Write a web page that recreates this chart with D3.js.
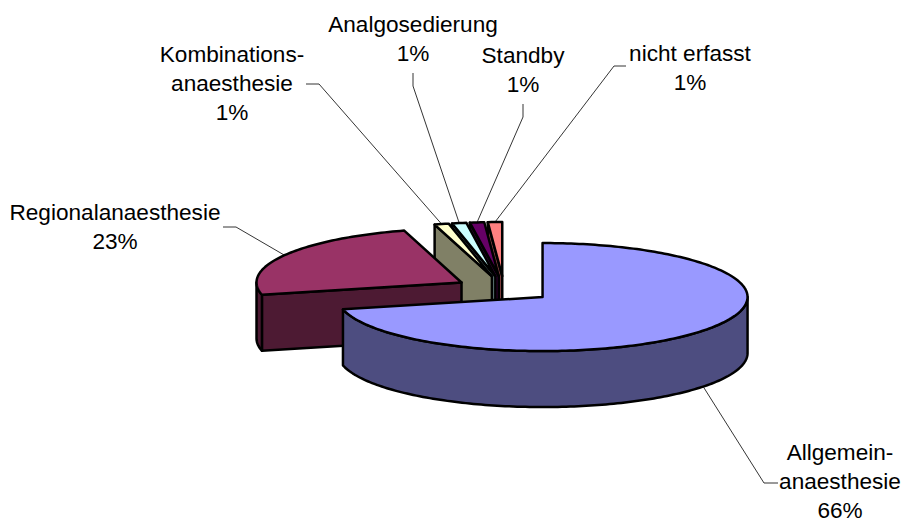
<!DOCTYPE html>
<html>
<head>
<meta charset="utf-8">
<script src="https://cdn.jsdelivr.net/npm/d3@7"></script>
<style>
  html, body { margin: 0; padding: 0; background: #fff; }
  text { font-family: "Liberation Sans", Arial, sans-serif; font-size: 22.6px; fill: #000; }
</style>
</head>
<body>
<div id="wrapper"></div>
<script>
const categories = ['Allgemeinanaesthesie', 'Regionalanaesthesie', 'Kombinationsanaesthesie', 'Analgosedierung', 'Standby', 'nicht erfasst'];
const values = [66.45, 22.5, 1.05, 1.05, 1.05, 1.05];
const topColors = ['#9999ff', '#993366', '#ffffcc', '#ccffff', '#660066', '#ff8080'];
const wallColors = ['#4d4d80', '#4d1a33', '#808066', '#668080', '#330033', '#804040'];
const labelLines = [
    ['Allgemein-', 'anaesthesie', '66%'],
    ['Regionalanaesthesie', '23%'],
    ['Kombinations-', 'anaesthesie', '1%'],
    ['Analgosedierung', '1%'],
    ['Standby', '1%'],
    ['nicht erfasst', '1%']
];

// label centre x, first baseline y, leader bend points
const labelLayout = [
    { x: 840, y: 460, leader: [[778, 483], [764, 483]] },
    { x: 115, y: 220, leader: [[223, 227], [236, 227]] },
    { x: 232, y: 62, leader: [[306, 84], [319, 84]] },
    { x: 413, y: 32, leader: [[413, 73], [413, 86]] },
    { x: 523, y: 63, leader: [[523, 104], [523, 117]] },
    { x: 690, y: 61, leader: [[626, 66], [614, 66]] }
];

const width = 903;
const height = 519;
const pie3d = { cx: 504, cy: 289, rx: 205, ry: 54, depth: 56, explode: 0.24 };

const svg = d3.select('#wrapper')
    .append('svg')
    .attr('width', width)
    .attr('height', height)
    .style('display', 'block');

const slices = d3.pie().sort(null).value(d => d)(values)
    .map((d, i) => {
        const mid = (d.startAngle + d.endAngle) / 2;
        return {
            ...d,
            i,
            mid,
            ox: pie3d.cx + pie3d.explode * pie3d.rx * Math.sin(mid),
            oy: pie3d.cy - pie3d.explode * pie3d.ry * Math.cos(mid)
        };
    });

const rim = (s, a, dz = 0) => [
    s.ox + pie3d.rx * Math.sin(a),
    s.oy - pie3d.ry * Math.cos(a) + dz
];

function arcPoints(s, a0, a1, dz) {
    const n = Math.max(2, Math.ceil(Math.abs(a1 - a0) / 0.02));
    return d3.range(n + 1).map(k => rim(s, a0 + (a1 - a0) * k / n, dz));
}

const line = d3.line();

function topPath(s) {
    return line([[s.ox, s.oy], ...arcPoints(s, s.startAngle, s.endAngle, 0)]) + 'Z';
}

function radialWall(s, a) {
    const p = rim(s, a);
    return line([[s.ox, s.oy], p, [p[0], p[1] + pie3d.depth], [s.ox, s.oy + pie3d.depth]]) + 'Z';
}

// only the part of the rim facing the viewer, between 90 and 270 degrees
function outerWall(s) {
    const a0 = Math.max(s.startAngle, Math.PI / 2);
    const a1 = Math.min(s.endAngle, Math.PI * 1.5);
    if (a1 <= a0) return null;
    return line([...arcPoints(s, a0, a1, 0), ...arcPoints(s, a1, a0, pie3d.depth)]) + 'Z';
}

// back to front: the small slices right to left, then regional, then the big one
const drawOrder = [5, 4, 3, 2, 1, 0];

const marks = svg.append('g')
    .attr('stroke', '#000')
    .attr('stroke-width', 2.5)
    .attr('stroke-linejoin', 'round');

drawOrder.forEach(i => {
    const s = slices[i];
    const g = marks.append('g');
    const walls = [];
    if (-Math.sin(s.startAngle) > 0.001) walls.push(radialWall(s, s.startAngle));
    if (Math.sin(s.endAngle) > 0.001) walls.push(radialWall(s, s.endAngle));
    const outer = outerWall(s);
    if (outer) walls.push(outer);
    g.selectAll('path.wall')
        .data(walls)
        .enter()
        .append('path')
        .attr('class', 'wall')
        .attr('d', d => d)
        .attr('fill', wallColors[i]);
    g.append('path')
        .attr('d', topPath(s))
        .attr('fill', topColors[i]);
});

const leaders = svg.append('g')
    .attr('fill', 'none')
    .attr('stroke', '#000')
    .attr('stroke-width', 0.8);

slices.forEach((s, i) => {
    const dz = i === 0 ? pie3d.depth : 0;
    const end = rim(s, s.mid, dz);
    leaders.append('path').attr('d', line([...labelLayout[i].leader, end]));
});

const lineHeight = 28.8;

labelLines.forEach((lines, i) => {
    const t = svg.append('text')
        .attr('text-anchor', 'middle')
        .attr('aria-label', categories[i]);
    t.selectAll('tspan')
        .data(lines)
        .enter()
        .append('tspan')
        .attr('x', labelLayout[i].x)
        .attr('y', (d, k) => labelLayout[i].y + k * lineHeight)
        .text(d => d);
});
</script>
</body>
</html>
